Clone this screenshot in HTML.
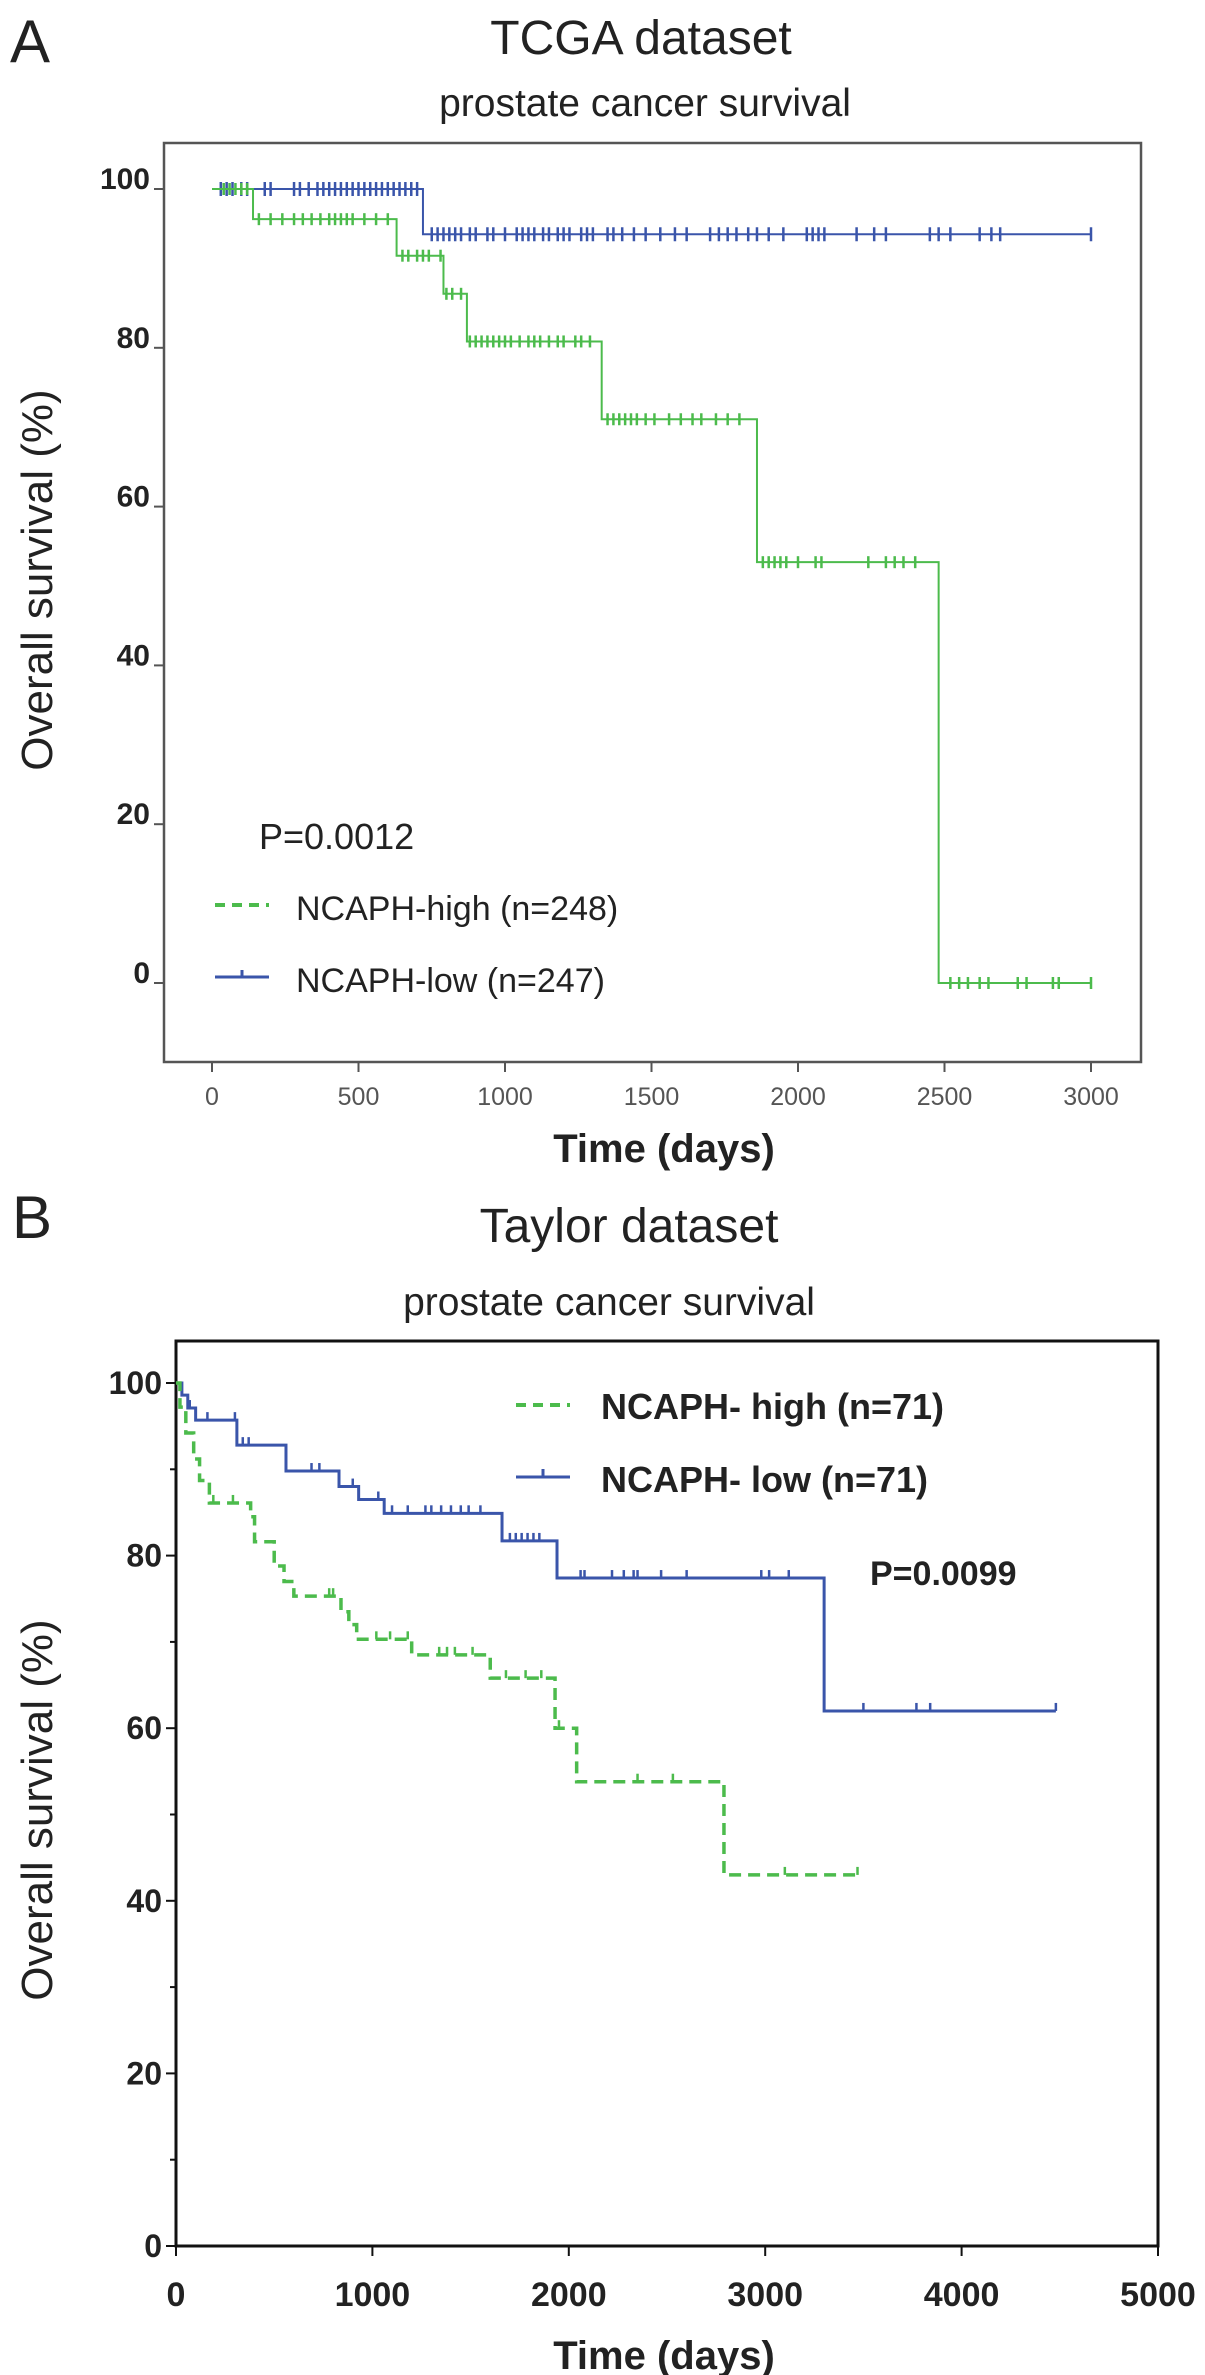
<!DOCTYPE html>
<html><head><meta charset="utf-8"><style>
html,body{margin:0;padding:0;background:#fff}
svg{display:block;font-family:"Liberation Sans",sans-serif}
</style></head><body>
<svg id="fig" width="1205" height="2375" viewBox="0 0 1205 2375" xmlns="http://www.w3.org/2000/svg">
<text x="10" y="62" font-size="60" fill="#222">A</text>
<text x="641" y="54" font-size="48" text-anchor="middle" fill="#222">TCGA dataset</text>
<text x="645" y="116" font-size="39" text-anchor="middle" fill="#222">prostate cancer survival</text>
<rect x="164" y="143" width="977" height="919" fill="none" stroke="#555" stroke-width="2.5"/>
<text transform="translate(52,580) rotate(-90)" font-size="44" text-anchor="middle" fill="#222">Overall survival (%)</text>
<text x="664" y="1162" font-size="40" font-weight="bold" text-anchor="middle" fill="#222">Time (days)</text>
<text x="259" y="849" font-size="36" fill="#222">P=0.0012</text>
<line x1="215" y1="905" x2="269" y2="905" stroke="#4cbb4c" stroke-width="4" stroke-dasharray="10,7"/>
<text x="296" y="920" font-size="34" fill="#222">NCAPH-high (n=248)</text>
<line x1="215" y1="977" x2="269" y2="977" stroke="#3a55aa" stroke-width="3"/>
<line x1="242" y1="970" x2="242" y2="977" stroke="#3a55aa" stroke-width="3"/>
<text x="296" y="992" font-size="34" fill="#222">NCAPH-low (n=247)</text>
<g id="ga"></g>

<text x="12" y="1238" font-size="60" fill="#222">B</text>
<text x="629" y="1242" font-size="48" text-anchor="middle" fill="#222">Taylor dataset</text>
<text x="609" y="1315" font-size="39" text-anchor="middle" fill="#222">prostate cancer survival</text>
<rect x="176" y="1341" width="982" height="905" fill="none" stroke="#111" stroke-width="3"/>
<text transform="translate(52,1810) rotate(-90)" font-size="44" text-anchor="middle" fill="#222">Overall survival (%)</text>
<text x="664" y="2369" font-size="40" font-weight="bold" text-anchor="middle" fill="#222">Time (days)</text>
<text x="870" y="1585" font-size="34" font-weight="bold" fill="#222">P=0.0099</text>
<line x1="516" y1="1405" x2="570" y2="1405" stroke="#4cbb4c" stroke-width="4" stroke-dasharray="10,7"/>
<text x="601" y="1419" font-size="36" font-weight="bold" fill="#222">NCAPH- high (n=71)</text>
<line x1="516" y1="1477" x2="570" y2="1477" stroke="#3a55aa" stroke-width="3"/>
<line x1="543" y1="1469" x2="543" y2="1477" stroke="#3a55aa" stroke-width="3"/>
<text x="601" y="1492" font-size="36" font-weight="bold" fill="#222">NCAPH- low (n=71)</text>
<g id="gb"></g>
</svg>
<script>
// Panel A data
const aYTicks = [0, 20, 40, 60, 80, 100];
const aXTicks = [0, 500, 1000, 1500, 2000, 2500, 3000];
const aLowTimes = [0, 720, 3000];
const aLowSurv = [100, 94.3, 94.3];
const aHighTimes = [0, 140, 630, 790, 870, 1330, 1860, 2480, 3000];
const aHighSurv = [100, 96.2, 91.6, 86.8, 80.8, 71, 53, 0, 0];
const aLowCensor = [30,50,70,100,120,180,200,280,300,330,360,380,400,420,440,460,480,500,520,540,560,580,600,620,640,660,680,700,750,770,790,810,830,850,880,900,940,960,1000,1040,1060,1080,1100,1130,1150,1180,1200,1220,1260,1280,1300,1350,1370,1400,1440,1480,1530,1580,1620,1700,1730,1760,1790,1830,1860,1900,1950,2030,2050,2070,2090,2200,2260,2300,2450,2480,2520,2620,2660,2690,3000];
const aHighCensor = [40,60,80,100,120,160,200,240,280,310,340,370,400,420,440,460,480,520,560,600,650,670,700,720,740,780,800,820,850,880,900,920,940,960,980,1000,1020,1050,1080,1100,1120,1150,1180,1200,1240,1260,1290,1350,1370,1390,1410,1430,1450,1480,1510,1560,1600,1640,1670,1720,1760,1800,1880,1900,1920,1940,1960,2000,2060,2080,2240,2300,2330,2360,2400,2520,2550,2580,2620,2650,2750,2780,2870,2890,3000];
// Panel B data
const bYTicks = [0, 20, 40, 60, 80, 100];
const bXTicks = [0, 1000, 2000, 3000, 4000, 5000];
const bLowTimes = [0, 30, 60, 100, 310, 560, 830, 930, 1060, 1660, 1940, 3300, 4480];
const bLowSurv = [100, 98.6, 97.1, 95.7, 92.8, 89.8, 88.0, 86.5, 84.9, 81.7, 77.4, 62, 62];
const bHighTimes = [0, 20, 50, 90, 120, 170, 380, 400, 500, 550, 600, 840, 880, 920, 1200, 1600, 1930, 2040, 2790, 3470];
const bHighSurv = [100, 97.2, 94.2, 91.2, 88.7, 86.1, 84.5, 81.6, 78.8, 77.0, 75.3, 73.5, 72.0, 70.3, 68.5, 65.8, 60.0, 53.8, 43.0, 43.0];
const bLowCensor = [70,160,300,340,370,690,730,900,1030,1100,1180,1270,1300,1350,1400,1450,1490,1550,1700,1730,1760,1790,1820,1850,2060,2080,2220,2280,2330,2350,2470,2600,2980,3020,3120,3500,3770,3840,4480];
const bHighCensor = [190,290,780,800,1020,1090,1180,1340,1380,1420,1510,1680,1780,1860,1950,2350,2530,3100,3470];

const NS = "http://www.w3.org/2000/svg";
function mk(g, tag, attrs){const e=document.createElementNS(NS,tag);for(const k in attrs)e.setAttribute(k,attrs[k]);g.appendChild(e);return e;}
function survAt(times, surv, t){let v=surv[0];for(let i=0;i<times.length;i++){if(times[i]<=t)v=surv[i];}return v;}

function drawPanel(g, cfg){
  const X=t=>cfg.x0+(t-cfg.xMin)/(cfg.xMax-cfg.xMin)*(cfg.x1-cfg.x0);
  const Y=v=>cfg.y0+(v-cfg.yMin)/(cfg.yMax-cfg.yMin)*(cfg.y1-cfg.y0);
  cfg.yTicks.forEach(v=>{
    const l=mk(g,'line',{x1:cfg.frameL-10,x2:cfg.frameL,y1:Y(v),y2:Y(v),stroke:cfg.axisColor,'stroke-width':2});
    
    
    const t=mk(g,'text',{x:cfg.frameL-14,y:Y(v)+cfg.ylabOff,'font-size':cfg.yFont,'text-anchor':'end','font-weight':'bold',fill:'#222'});
    t.textContent=v;
    
    
  });
  if(cfg.minorY){for(let v=10;v<100;v+=20){const l=mk(g,'line',{x1:cfg.frameL-6,x2:cfg.frameL,y1:Y(v),y2:Y(v),stroke:cfg.axisColor,'stroke-width':2});
    
    }}
  cfg.xTicks.forEach(v=>{
    const l=mk(g,'line',{x1:X(v),x2:X(v),y1:cfg.frameB,y2:cfg.frameB+10,stroke:cfg.axisColor,'stroke-width':2});
    
    
    const t=mk(g,'text',{x:X(v),y:cfg.xlabY,'font-size':cfg.xFont,'text-anchor':'middle','font-weight':cfg.xBold?'bold':'normal',fill:cfg.xColor});
    t.textContent=v;
    
    
  });
  cfg.series.forEach(s=>{
    let d='M'+X(s.times[0])+','+Y(s.surv[0]);
    for(let i=1;i<s.times.length;i++){d+=' H'+X(s.times[i])+' V'+Y(s.surv[i]);}
    const p=mk(g,'path',{d:d,fill:'none',stroke:s.color,'stroke-width':s.w});
    if(s.dash)p.setAttribute('stroke-dasharray',s.dash);
    
    
    s.censor.forEach(t=>{
      const y=Y(survAt(s.times,s.surv,t));
      const c=mk(g,'line',{x1:X(t),x2:X(t),y1:y-s.ch,y2:y+s.cb,stroke:s.color,'stroke-width':2.5});
      
      
    });
  });
}
drawPanel(document.getElementById('ga'),{
  x0:212,x1:1091,xMin:0,xMax:3000,y0:983,y1:189,yMin:0,yMax:100,
  frameL:164,frameB:1062,yTicks:aYTicks,xTicks:aXTicks,axisColor:'#555',
  ylabOff:0,yFont:30,xFont:25,xlabY:1105,xColor:'#555',xBold:false,minorY:false,
  series:[
    {name:'tcga-low-curve',times:aLowTimes,surv:aLowSurv,censor:aLowCensor,color:'#3a55aa',w:2,ch:7,cb:7},
    {name:'tcga-high-curve',times:aHighTimes,surv:aHighSurv,censor:aHighCensor,color:'#4cbb4c',w:2,ch:6,cb:6}
  ]});
drawPanel(document.getElementById('gb'),{
  x0:176,x1:1158,xMin:0,xMax:5000,y0:2246,y1:1383,yMin:0,yMax:100,
  frameL:176,frameB:2246,yTicks:bYTicks,xTicks:bXTicks,axisColor:'#111',
  ylabOff:11,yFont:32,xFont:34,xlabY:2306,xColor:'#222',xBold:true,minorY:true,
  series:[
    {name:'taylor-low-curve',times:bLowTimes,surv:bLowSurv,censor:bLowCensor,color:'#3a55aa',w:3,ch:8,cb:0},
    {name:'taylor-high-curve',times:bHighTimes,surv:bHighSurv,censor:bHighCensor,color:'#4cbb4c',w:3.5,dash:'12,7',ch:8,cb:0}
  ]});
</script>
</body></html>
